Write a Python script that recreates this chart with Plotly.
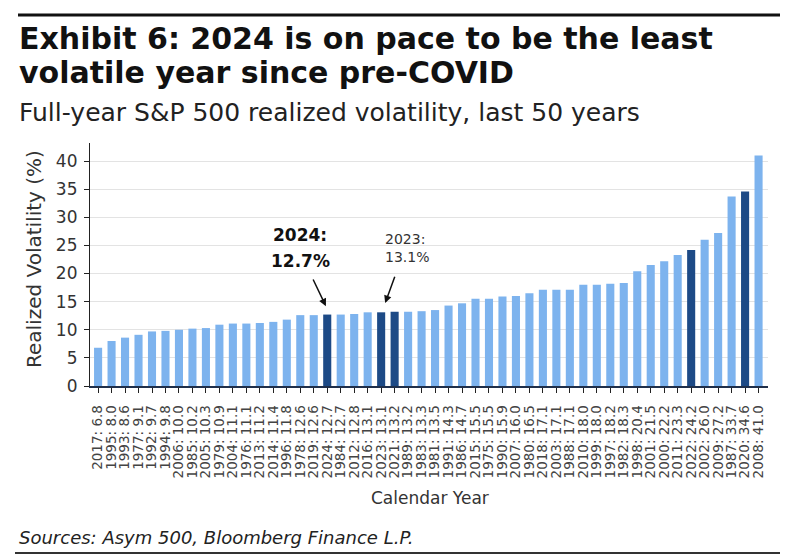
import plotly.graph_objects as go

years = [2017, 1995, 1993, 1977, 1992, 1994, 2006, 1985, 2005, 1979,
         2004, 1976, 2013, 2014, 1996, 1978, 2019, 2024, 1984, 2012,
         2016, 2023, 2021, 1989, 1983, 1981, 1991, 1986, 2015, 1975,
         1990, 2007, 1980, 2018, 2003, 1988, 2010, 1999, 1997, 1982,
         1998, 2001, 2000, 2011, 2022, 2002, 2009, 1987, 2020, 2008]
vols = [6.8, 8.0, 8.6, 9.1, 9.7, 9.8, 10.0, 10.2, 10.3, 10.9,
        11.1, 11.1, 11.2, 11.4, 11.8, 12.6, 12.6, 12.7, 12.7, 12.8,
        13.1, 13.1, 13.2, 13.2, 13.3, 13.5, 14.3, 14.7, 15.5, 15.5,
        15.9, 16.0, 16.5, 17.1, 17.1, 17.1, 18.0, 18.0, 18.2, 18.3,
        20.4, 21.5, 22.2, 23.3, 24.2, 26.0, 27.2, 33.7, 34.6, 41.0]
tick_labels = [f"{y}: {v:.1f}" for y, v in zip(years, vols)]
highlight_years = [2020, 2021, 2022, 2023, 2024]
y_ticks = [0, 5, 10, 15, 20, 25, 30, 35, 40]

LIGHT = "#7DB3EE"
DARK = "#1D4A86"
colors = [DARK if y in highlight_years else LIGHT for y in years]
xs = list(range(len(years)))

W, H = 800, 556
PL, PR, PT, PB = 90, 768, 143, 386   # plot area in window pixels
ML, MR, MT, MB = PL, W - PR, PT, H - PB
plot_h = PB - PT
plot_w = PR - PL

def py(p):  # pixel y -> paper y
    return (PB - p) / plot_h

def px(p):  # pixel x -> paper x
    return (p - PL) / plot_w

fig = go.Figure()
fig.add_trace(go.Bar(x=xs, y=vols, marker=dict(color=colors, line=dict(width=0)),
                     width=0.6, hoverinfo="skip"))

i24 = years.index(2024)
i23 = years.index(2023)

annotations = [
    dict(xref="paper", yref="paper", x=px(17), y=py(39), xanchor="left", yanchor="middle",
         text="<b>Exhibit 6: 2024 is on pace to be the least</b>", showarrow=False,
         font=dict(family="DejaVu Sans", size=30, color="#111111")),
    dict(xref="paper", yref="paper", x=px(17), y=py(72), xanchor="left", yanchor="middle",
         text="<b>volatile year since pre-COVID</b>", showarrow=False,
         font=dict(family="DejaVu Sans", size=30, color="#111111")),
    dict(xref="paper", yref="paper", x=px(17), y=py(112), xanchor="left", yanchor="middle",
         text="Full-year S&P 500 realized volatility, last 50 years", showarrow=False,
         font=dict(family="DejaVu Sans", size=25, color="#222222")),
    dict(xref="paper", yref="paper", x=px(17), y=py(537), xanchor="left", yanchor="middle",
         text="<i>Sources: Asym 500, Bloomberg Finance L.P.</i>", showarrow=False,
         font=dict(family="DejaVu Sans", size=18, color="#222222")),
    dict(xref="paper", yref="paper", x=px(430), y=py(498), xanchor="center", yanchor="middle",
         text="Calendar Year", showarrow=False,
         font=dict(family="DejaVu Sans", size=17, color="#333333")),
    dict(xref="paper", yref="paper", x=px(34), y=py(259), xanchor="center", yanchor="middle",
         text="Realized Volatility (%)", showarrow=False, textangle=-90,
         font=dict(family="DejaVu Sans", size=20, color="#333333")),
    # 2024 label
    dict(xref="x", yref="y", x=i24 - 2.0, y=vols[i24] + 14.1, xanchor="center", yanchor="middle",
         text="<b>2024:</b>", showarrow=False,
         font=dict(family="DejaVu Sans", size=17, color="#111111")),
    dict(xref="x", yref="y", x=i24 - 2.0, y=vols[i24] + 9.6, xanchor="center", yanchor="middle",
         text="<b>12.7%</b>", showarrow=False,
         font=dict(family="DejaVu Sans", size=17, color="#111111")),
    dict(xref="x", yref="y", x=i24 - 0.1, y=vols[i24] + 1.5, ax=i24 - 1.1, ay=vols[i24] + 6.5,
         axref="x", ayref="y", text="", showarrow=True, arrowhead=2, arrowsize=1,
         arrowwidth=1.5, arrowcolor="#111111"),
    # 2023 label
    dict(xref="x", yref="y", x=i23 + 0.15, y=vols[i23] + 11.4, xanchor="left", yanchor="middle",
         text="2023:<br>13.1%", showarrow=False, align="left",
         font=dict(family="DejaVu Sans", size=14, color="#333333")),
    dict(xref="x", yref="y", x=i23 + 0.3, y=vols[i23] + 1.65, ax=i23 + 1.05, ay=vols[i23] + 6.6,
         axref="x", ayref="y", text="", showarrow=True, arrowhead=2, arrowsize=1,
         arrowwidth=1.5, arrowcolor="#111111"),
]

shapes = [
    dict(type="line", xref="paper", yref="paper", x0=px(18), x1=px(780), y0=py(15), y1=py(15),
         line=dict(color="#111111", width=3)),
    dict(type="line", xref="paper", yref="paper", x0=px(15), x1=px(780), y0=py(553), y1=py(553),
         line=dict(color="#333333", width=2)),
]

fig.update_layout(
    width=W, height=H,
    margin=dict(l=ML, r=MR, t=MT, b=MB, autoexpand=False),
    paper_bgcolor="white", plot_bgcolor="white",
    showlegend=False,
    annotations=annotations,
    shapes=shapes,
    xaxis=dict(
        tickmode="array", tickvals=xs, ticktext=tick_labels, tickangle=-90,
        tickfont=dict(family="DejaVu Sans", size=13.5, color="#444444"),
        ticklabelstandoff=7,
        range=[-0.6, len(xs) - 0.3],
        showline=True, linecolor="#1F2F4A", linewidth=1.5,
        ticks="outside", ticklen=5, tickcolor="#222222", tickwidth=1.2,
        showgrid=False, zeroline=False, fixedrange=True,
    ),
    yaxis=dict(
        tickmode="array", tickvals=y_ticks,
        tickfont=dict(family="DejaVu Sans", size=17, color="#333333"),
        range=[0, 43.2],
        showline=True, linecolor="#222222", linewidth=1.2,
        ticks="outside", ticklen=5, tickcolor="#222222",
        ticklabelstandoff=3,
        showgrid=True, gridcolor="#E3E3E3", gridwidth=1,
        zeroline=False, fixedrange=True,
    ),
)

fig.write_html(
    "out.html",
    config={"displayModeBar": False},
    post_script="document.body.style.margin='0';document.body.style.overflow='hidden';",
)
